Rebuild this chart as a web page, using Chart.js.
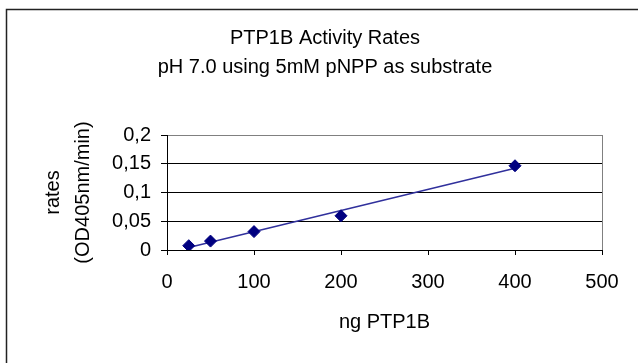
<!DOCTYPE html>
<html>
<head>
<meta charset="utf-8">
<script src="https://cdn.jsdelivr.net/npm/chart.js@4/dist/chart.umd.min.js"></script>
<style>
  html, body { margin: 0; padding: 0; background: #fff; }
  canvas { display: block; }
</style>
</head>
<body>
<canvas id="rateChart" width="638" height="363"></canvas>
<script>
// values
const ngPTP1B = [25, 50, 100, 200, 400];
const rates = [0.0075, 0.0155, 0.032, 0.0595, 0.1465];
const titleLines = ["PTP1B Activity Rates", "pH 7.0 using 5mM pNPP as substrate"];
const xTicks = [0, 100, 200, 300, 400, 500];
const yTicks = [0, 0.05, 0.1, 0.15, 0.2];

const FONT = "'Liberation Sans', Arial, sans-serif";

// linear trendline (least squares), like the Excel one
function linearFit(xs, ys) {
    const n = xs.length;
    const mx = xs.reduce((a, b) => a + b, 0) / n;
    const my = ys.reduce((a, b) => a + b, 0) / n;
    let sxy = 0, sxx = 0;
    for (let i = 0; i < n; i++) {
        sxy += (xs[i] - mx) * (ys[i] - my);
        sxx += (xs[i] - mx) * (xs[i] - mx);
    }
    const slope = sxy / sxx;
    return { slope: slope, icpt: my - slope * mx };
}
const fit = linearFit(ngPTP1B, rates);
const xMin = Math.min(...ngPTP1B), xMax = Math.max(...ngPTP1B);
const trend = [xMin, xMax].map(x => ({ x: x, y: fit.icpt + fit.slope * x }));

const points = ngPTP1B.map((x, i) => ({ x: x, y: rates[i] }));

function commaNum(v) {
    return String(Number(v.toFixed(2))).replace(".", ",");
}

// outer frame + two line heading
const framePlugin = {
    id: "frame",
    beforeDraw(chart) {
        const c = chart.ctx;
        c.save();
        c.fillStyle = "#fff";
        c.fillRect(0, 0, chart.width, chart.height);
        c.strokeStyle = "#222";
        c.lineWidth = 1.5;
        c.strokeRect(6.5, 9.5, 700, 500);
        c.fillStyle = "#000";
        c.font = "20px " + FONT;
        c.textAlign = "center";
        c.textBaseline = "middle";
        c.fillText(titleLines[0], 325, 38);
        c.fillText(titleLines[1], 325, 67);
        c.restore();
    }
};

new Chart(document.getElementById("rateChart"), {
    type: "scatter",
    data: {
        datasets: [{
            label: "rates",
            data: points,
            pointStyle: "rectRot",
            pointRadius: 6,
            pointHoverRadius: 6,
            backgroundColor: "#000080",
            borderColor: "#000080",
            borderWidth: 1,
            showLine: false
        }, {
            label: "trend",
            data: trend,
            showLine: true,
            pointRadius: 0,
            borderColor: "#30309c",
            borderWidth: 1.5,
            fill: false
        }]
    },
    options: {
        responsive: false,
        animation: false,
        events: [],
        layout: { padding: { top: 135, right: 36, left: 0, bottom: 0 } },
        plugins: {
            legend: { display: false },
            tooltip: { enabled: false },
            title: { display: false }
        },
        scales: {
            x: {
                type: "linear",
                min: 0,
                max: 500,
                afterBuildTicks: (s) => { s.ticks = xTicks.map(v => ({ value: v })); },
                afterFit: (s) => { s.height = 113; },
                ticks: {
                    color: "#000",
                    font: { family: FONT, size: 20 },
                    padding: 15.5,
                    maxRotation: 0
                },
                grid: {
                    color: (c) => c.tick && c.tick.value === 500 ? "#808080" : "rgba(0,0,0,0)",
                    tickColor: "#000",
                    tickLength: 5,
                    lineWidth: 1
                },
                border: { color: "#000", width: 1 },
                title: {
                    display: true,
                    text: "ng PTP1B",
                    color: "#000",
                    font: { family: FONT, size: 20 },
                    padding: { top: 0, bottom: 29 }
                }
            },
            y: {
                type: "linear",
                min: 0,
                max: 0.2,
                afterBuildTicks: (s) => { s.ticks = yTicks.map(v => ({ value: v })); },
                afterFit: (s) => { s.width = 167; },
                ticks: {
                    color: "#000",
                    font: { family: FONT, size: 20 },
                    padding: 10,
                    callback: (v) => commaNum(v)
                },
                grid: {
                    color: (c) => c.tick && c.tick.value === 0.2 ? "#808080" : "#000",
                    tickColor: "#000",
                    tickLength: 6,
                    lineWidth: 1
                },
                border: { color: "#000", width: 1 },
                title: {
                    display: true,
                    text: ["rates", "(OD405nm/min)"],
                    color: "#000",
                    font: { family: FONT, size: 20, lineHeight: 29.5 / 20 },
                    padding: { top: 39, bottom: 0 }
                }
            }
        }
    },
    plugins: [framePlugin]
});
</script>
</body>
</html>
